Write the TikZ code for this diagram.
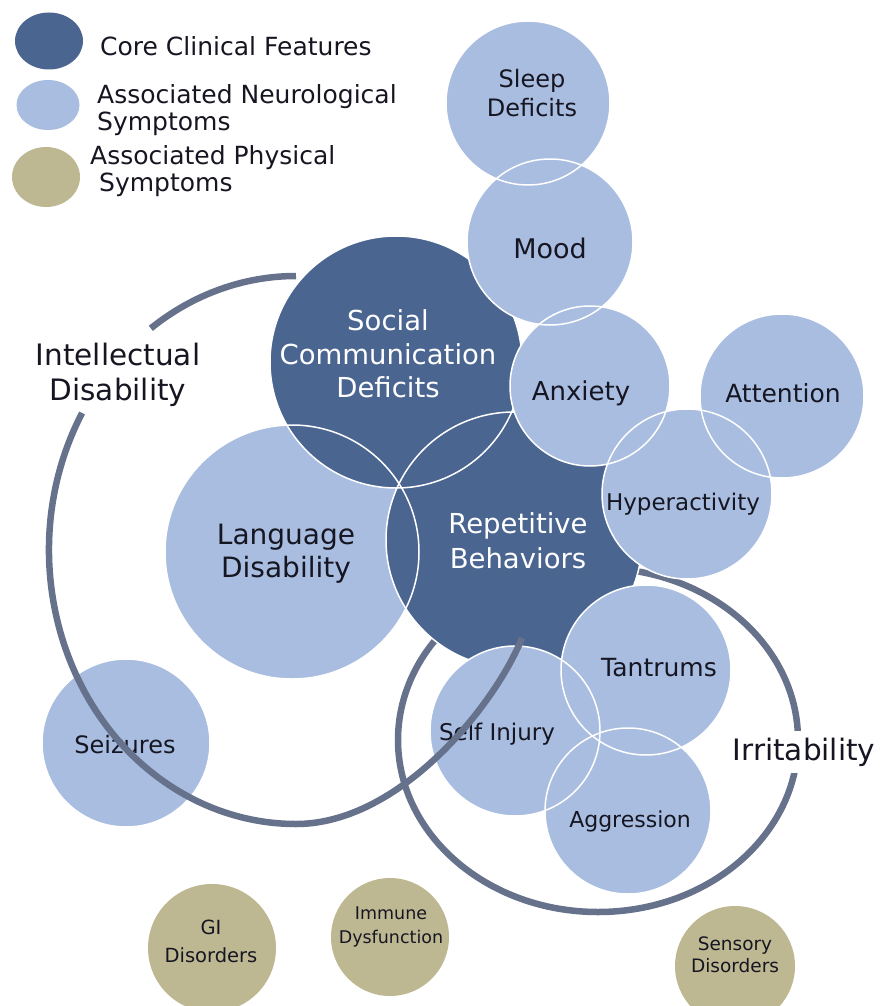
\documentclass[tikz,border=0pt]{standalone}
\usepackage{fontspec}
\setmainfont{DejaVu Sans}
\usetikzlibrary{shapes.geometric}

\definecolor{coreblue}{RGB}{75,101,145}
\definecolor{neuroblue}{RGB}{169,189,224}
\definecolor{physicaltan}{RGB}{190,184,146}
\definecolor{ringgrey}{RGB}{102,114,140}
\definecolor{ink}{RGB}{22,22,34}

\begin{document}
\begin{tikzpicture}[
    x=1pt, y=-1pt,
    blob/.style={circle, inner sep=0pt},
    core/.style={blob, fill=coreblue},
    neuro/.style={blob, fill=neuroblue},
    physical/.style={blob, fill=physicaltan},
    rim/.style={draw=white, line width=1.5pt},
    ring/.style={draw=ringgrey, line width=6.5pt},
    corelabel/.style={text=white, align=center, font=\fontsize{27.5}{33.5}\selectfont},
    neurolabel/.style={text=ink, align=center, inner sep=0pt},
    physlabel/.style={text=ink, align=center, inner sep=0pt},
    grouplabel/.style={text=ink, align=center, inner xsep=2pt, inner ysep=7pt, font=\fontsize{29.5}{35}\selectfont},
    key/.style={ellipse, inner sep=0pt},
    keytext/.style={text=ink, align=left, anchor=west, inner sep=0pt, font=\fontsize{25}{27}\selectfont}
]
    \useasboundingbox (0,0) rectangle (886,1006);

    % Irritability ring, behind all circles
    \draw[ring] (598,740) ellipse[x radius=200, y radius=172];
    \node[grouplabel, fill=white] (irritability) at (804,752) {Irritability};

    % Language disability, under the core features
    \node[neuro, minimum size=254pt] (language) at (292,552) {};

    % Core clinical features
    \node[core, minimum size=252pt] (social) at (396,362) {};
    \node[core, minimum size=256pt] (repetitive) at (514,540) {};
    \draw[rim] (language.center) circle[radius=127];
    \draw[rim] (social.center) circle[radius=126];
    \draw[rim] (repetitive.center) circle[radius=128];

    % Associated neurological symptoms
    \node[neuro, minimum size=164pt] (sleep) at (528,103) {};
    \node[neuro, minimum size=166pt] (mood) at (550,242) {};
    \node[neuro, minimum size=160pt] (anxiety) at (590,386) {};
    \node[neuro, minimum size=164pt] (attention) at (782,396) {};
    \node[neuro, minimum size=170pt] (hyperactivity) at (687,494) {};
    \node[neuro, minimum size=170pt] (tantrums) at (646,670) {};
    \node[neuro, minimum size=170pt] (selfinjury) at (515,731) {};
    \node[neuro, minimum size=166pt] (aggression) at (628,811) {};
    \node[neuro, minimum size=168pt] (seizures) at (126,743) {};
    \draw[rim] (sleep.center) circle[radius=82];
    \draw[rim] (mood.center) circle[radius=83];
    \draw[rim] (anxiety.center) circle[radius=80];
    \draw[rim] (attention.center) circle[radius=82];
    \draw[rim] (hyperactivity.center) circle[radius=85];
    \draw[rim] (tantrums.center) circle[radius=85];
    \draw[rim] (selfinjury.center) circle[radius=85];
    \draw[rim] (aggression.center) circle[radius=83];
    \draw[rim] (seizures.center) circle[radius=84];

    % Associated physical symptoms
    \node[physical, minimum size=128pt] (gi) at (212,948) {};
    \node[physical, minimum size=118pt] (immune) at (390,937) {};
    \node[physical, minimum size=120pt] (sensory) at (735,966) {};

    % Circle texts
    \node[corelabel] (sociallbl) at (388,354) {Social\\Communication\\Deficits};
    \node[corelabel, font=\fontsize{27.5}{35}\selectfont] (repetitivelbl) at (518,541) {Repetitive\\Behaviors};
    \node[neurolabel, font=\fontsize{28}{33}\selectfont] (languagelbl) at (286,554) {Language\\Disability};
    \node[neurolabel, font=\fontsize{24}{29}\selectfont] (sleeplbl) at (532,93) {Sleep\\Deficits};
    \node[neurolabel, font=\fontsize{27}{30}\selectfont] (moodlbl) at (550,248) {Mood};
    \node[neurolabel, font=\fontsize{26}{30}\selectfont] (anxietylbl) at (581,393) {Anxiety};
    \node[neurolabel, font=\fontsize{25}{30}\selectfont] (attentionlbl) at (783,393) {Attention};
    \node[neurolabel, font=\fontsize{23}{28}\selectfont] (hyperactivitylbl) at (683,504) {Hyperactivity};
    \node[neurolabel, font=\fontsize{25}{30}\selectfont] (tantrumslbl) at (659,668) {Tantrums};
    \node[neurolabel, font=\fontsize{23}{28}\selectfont] (selfinjurylbl) at (497,734) {Self Injury};
    \node[neurolabel, font=\fontsize{22}{27}\selectfont] (aggressionlbl) at (630,821) {Aggression};
    \node[neurolabel, font=\fontsize{24}{29}\selectfont] (seizureslbl) at (125,745) {Seizures};
    \node[physlabel, font=\fontsize{19.5}{28}\selectfont] (gilbl) at (211,941) {GI\\Disorders};
    \node[physlabel, font=\fontsize{17.5}{24}\selectfont] (immunelbl) at (391,927) {Immune\\Dysfunction};
    \node[physlabel, font=\fontsize{18.5}{22}\selectfont] (sensorylbl) at (735,955) {Sensory\\Disorders};

    % Intellectual disability ring, broken round its label
    \coordinate (idcentre) at (296,550);
    \draw[ring] (idcentre) ++(270:247 and 274)
        arc[start angle=270, end angle=234, x radius=247, y radius=274];
    \draw[ring] (idcentre) ++(210:247 and 274)
        arc[start angle=210, end angle=90, x radius=247, y radius=274]
        .. controls (400,824) and (495,705) .. (522,638);
    \node[grouplabel] (intellectual) at (118,375) {Intellectual\\Disability};

    % Key
    \node[key, fill=coreblue, minimum width=68pt, minimum height=57pt] (keycore) at (49,41) {};
    \node[key, fill=neuroblue, minimum width=63pt, minimum height=50pt] (keyneuro) at (48,105) {};
    \node[key, fill=physicaltan, minimum width=68pt, minimum height=60pt] (keyphysical) at (46,177) {};
    \node[keytext] (keycorelbl) at (100,46) {Core Clinical Features};
    \node[keytext] (keyneurolbl) at (97,110) {Associated Neurological\\Symptoms};
    \node[keytext] (keyphysicallbl) at (90,171) {Associated Physical\\\hspace*{9pt}Symptoms};
\end{tikzpicture}
\end{document}
